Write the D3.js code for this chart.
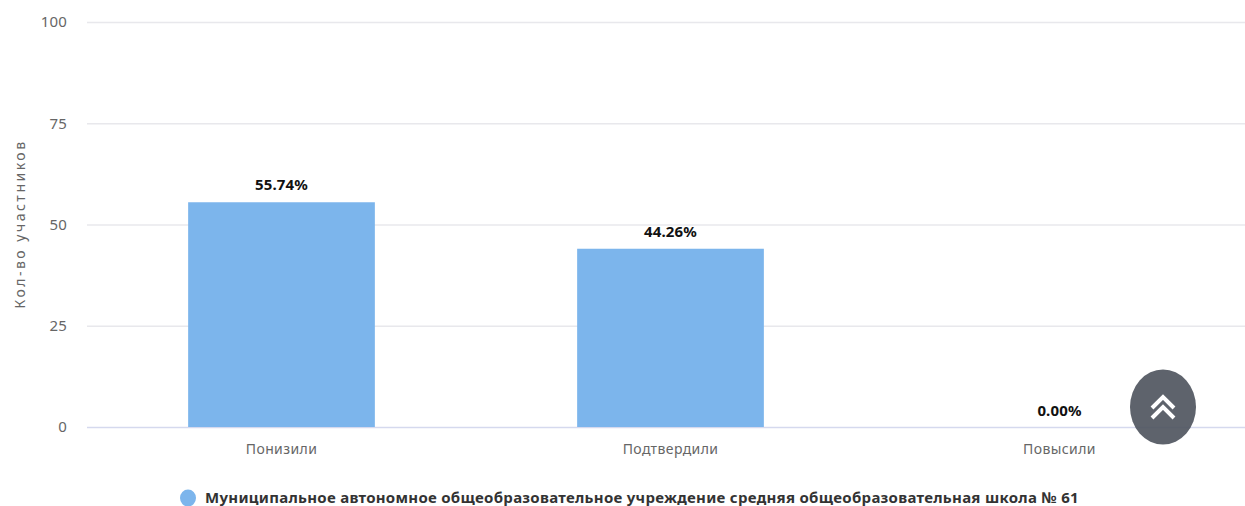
<!DOCTYPE html>
<html><head><meta charset="utf-8">
<script src="https://cdn.jsdelivr.net/npm/d3@7/dist/d3.min.js"></script>
<style>html,body{margin:0;padding:0;background:#fff;overflow:hidden}svg{display:block}text{font-family:"Noto Sans",sans-serif}</style>
</head><body><svg id="c" width="1245" height="506"></svg>
<script>
const categories=["Понизили","Подтвердили","Повысили"];
const values=[55.74,44.26,0];
const yTicks=[0,25,50,75,100];
const yTitle="Кол-во участников";
const legendLabel="Муниципальное автономное общеобразовательное учреждение средняя общеобразовательная школа № 61";
const svg=d3.select("#c");
const x=d3.scaleBand().domain(categories).range([87,1254]).paddingInner(0.52).paddingOuter(0.26);
const y=d3.scaleLinear().domain([0,100]).range([427,22]);
const barDrop=1;
const yAxis=svg.append("g").attr("transform","translate(87,0)").call(d3.axisLeft(y).tickValues(yTicks).tickSize(0).tickPadding(20));
yAxis.select(".domain").remove();
yAxis.selectAll("text").attr("font-size",15).attr("letter-spacing",.2).attr("fill","#666").style("font-family",'"Noto Sans",sans-serif');
svg.append("g").selectAll("line").data(yTicks).join("line")
 .attr("x1",87).attr("x2",1245).attr("y1",d=>y(d)+.5).attr("y2",d=>y(d)+.5)
 .attr("stroke",d=>d===0?"#d5d9ee":"#e8e8ec").attr("stroke-width",d=>d===0?1.6:1.4);
svg.append("g").selectAll("rect").data(values).join("rect")
 .attr("x",(d,i)=>x(categories[i])).attr("width",x.bandwidth())
 .attr("y",d=>y(d)+barDrop).attr("height",d=>Math.max(0,y(0)-y(d)-barDrop)).attr("fill","#7cb5ec");
svg.append("g").selectAll("text").data(values).join("text")
 .attr("x",(d,i)=>x(categories[i])+x.bandwidth()/2).attr("y",d=>y(d)+barDrop-12)
 .attr("text-anchor","middle").attr("font-size",15).attr("letter-spacing",.15).attr("font-weight",700).attr("fill","#111")
 .text(d=>d.toFixed(2)+"%");
const xAxis=svg.append("g").attr("transform","translate(0,427)").call(d3.axisBottom(x).tickSize(0).tickPadding(17));
xAxis.select(".domain").remove();
xAxis.selectAll("text").attr("font-size",14).attr("letter-spacing",.4).attr("fill","#666").style("font-family",'"Noto Sans",sans-serif');
svg.append("text").attr("transform","translate(25,224) rotate(-90)").attr("text-anchor","middle")
 .attr("font-size",14).attr("letter-spacing",2.5).attr("fill","#666").text(yTitle);
svg.append("ellipse").attr("cx",188).attr("cy",498).attr("rx",8).attr("ry",8.5).attr("fill","#7cb5ec");
svg.append("text").attr("x",205).attr("y",502.5).attr("font-size",15).attr("letter-spacing",.28).attr("font-weight",700).attr("fill","#333").text(legendLabel);
const b=svg.append("g").attr("transform","translate(1163,407)");
b.append("ellipse").attr("rx",33).attr("ry",37.5).attr("fill","#4d525c").attr("fill-opacity",.9);
b.selectAll("path").data([-4,6]).join("path").attr("d",d=>`M-11,${d+5}L0,${d-6}L11,${d+5}`)
 .attr("fill","none").attr("stroke","#fff").attr("stroke-width",4);
</script></body></html>
